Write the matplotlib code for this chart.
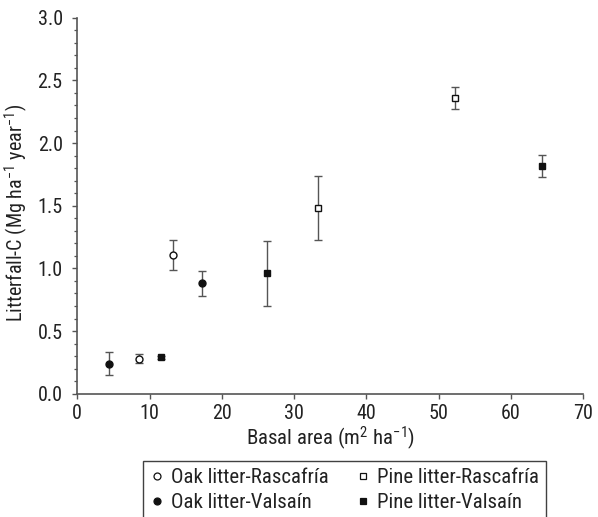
import numpy as np
import matplotlib
matplotlib.use("Agg")
import matplotlib.pyplot as plt
from matplotlib import font_manager
from matplotlib.ticker import MultipleLocator, FormatStrFormatter

# wąska czcionka, pierwsza dostępna z listy
dostepne = set(f.name for f in font_manager.fontManager.ttflist)
kandydaci = ['Roboto Condensed', 'Archivo Narrow', 'PT Sans Narrow', 'Liberation Sans Narrow']
czcionka = next((c for c in kandydaci if c in dostepne), 'DejaVu Sans')

plt.rcParams['font.family'] = [czcionka, 'DejaVu Sans']
plt.rcParams['mathtext.fontset'] = 'custom'
plt.rcParams['mathtext.rm'] = czcionka
plt.rcParams['mathtext.it'] = czcionka

# dane
oak_ras_x = [8.55, 13.3]
oak_ras_y = [0.28, 1.11]
oak_ras_err = [0.035, 0.12]

oak_val_x = [4.4, 17.2]
oak_val_y = [0.24, 0.88]
oak_val_err = [0.09, 0.10]

pine_ras_x = [33.25, 52.2]
pine_ras_y = [1.48, 2.36]
pine_ras_err = [0.256, 0.09]

pine_val_x = [11.6, 26.2, 64.3]
pine_val_y = [0.29, 0.96, 1.815]
pine_val_err = [0.012, 0.26, 0.088]

szary = '#555555'
tekst = '#222222'

fig = plt.figure(figsize=(5.98, 5.17), dpi=100)
ax = fig.add_axes([77.3 / 598, 1 - 393.7 / 517, 506 / 598, 376 / 517])

serie = [
    (oak_ras_x, oak_ras_y, oak_ras_err, 'o', 'white', 5.0, 'Oak litter-Rascafría'),
    (oak_val_x, oak_val_y, oak_val_err, 'o', '#111111', 5.0, 'Oak litter-Valsaín'),
    (pine_ras_x, pine_ras_y, pine_ras_err, 's', 'white', 4.0, 'Pine litter-Rascafría'),
    (pine_val_x, pine_val_y, pine_val_err, 's', '#111111', 4.0, 'Pine litter-Valsaín'),
]

uchwyty = []
for x, y, e, m, fc, ms, lab in serie:
    ax.errorbar(x, y, yerr=e, fmt='none', ecolor=szary, elinewidth=1.0,
                capsize=2.7, capthick=1.0, zorder=2)
    ax.plot(x, y, linestyle='none', marker=m, ms=ms, mfc=fc, mec='#111111',
            mew=1.0, zorder=3)
    h, = ax.plot([], [], linestyle='none', marker=m, ms=5.0, mfc=fc,
                 mec='#111111', mew=0.9, label=lab)
    uchwyty.append(h)

ax.set_xlim(0, 70)
ax.set_ylim(0, 3.0)
ax.xaxis.set_major_locator(MultipleLocator(10))
ax.yaxis.set_major_locator(MultipleLocator(0.5))
ax.yaxis.set_minor_locator(MultipleLocator(0.1))
ax.yaxis.set_major_formatter(FormatStrFormatter('%.1f'))

for s in ['top', 'right']:
    ax.spines[s].set_visible(False)
for s in ['left', 'bottom']:
    ax.spines[s].set_color(szary)
    ax.spines[s].set_linewidth(1.2)

ax.tick_params(axis='both', which='major', direction='out', length=3.5,
               width=1.0, color=szary, labelsize=14.5, labelcolor=tekst)
ax.tick_params(axis='y', which='major', pad=7)
ax.tick_params(axis='x', which='major', pad=4)
ax.tick_params(axis='y', which='minor', direction='out', length=2.4,
               width=0.9, color=szary)

ax.set_xlabel('Basal area (m$^2$ ha$^{−1}$)', fontsize=15, color=tekst, labelpad=1)
ax.set_ylabel('Litterfall-C (Mg ha$^{−1}$ year$^{−1}$)', fontsize=14.5,
              color=tekst)
ax.yaxis.set_label_coords(-0.094, 0.48)

leg = fig.legend(handles=uchwyty, ncol=2, loc='upper left',
                 bbox_to_anchor=(142.7 / 598, 1 - 460.7 / 517),
                 frameon=True, fancybox=False, edgecolor='#111111',
                 fontsize=15, handlelength=0.7, handletextpad=0.33,
                 columnspacing=1.25, labelspacing=0.3, borderpad=0.35,
                 borderaxespad=0)
leg.get_frame().set_linewidth(1.0)
for t in leg.get_texts():
    t.set_color(tekst)

fig.savefig('out.png', dpi=100)
